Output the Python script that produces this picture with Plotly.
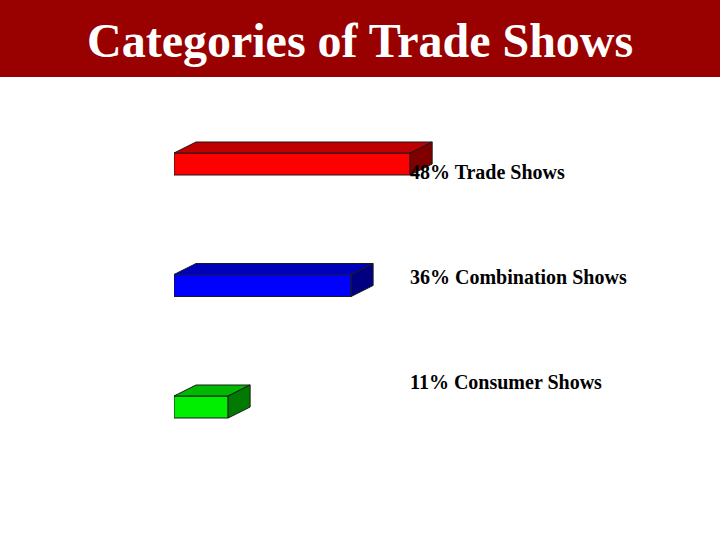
import plotly.graph_objects as go

# ---- data ----
categories = ["Trade Shows", "Combination Shows", "Consumer Shows"]
values = [48, 36, 11]
front_colors = ["#FF0000", "#0000FF", "#00EE00"]
top_colors = ["#C00000", "#0000B8", "#00B800"]
side_colors = ["#800000", "#000080", "#007A00"]
title_text = "Categories of Trade Shows"

# ---- layout constants (pixels) ----
W, H = 720, 540
L, R, T, B = 174, 54, 80, 36
PX_X = 4.92          # px per x unit
PX_Y = 121.5         # px per category step
FRONT_H_PX = 22
DEPTH_X_PX, DEPTH_Y_PX = 22, 11
LABEL_Y0_PX, LABEL_STEP_PX = 8, 105   # label offset from first bar centre, spacing

plot_w = W - L - R
plot_h = H - T - B
x_max = plot_w / PX_X
y_top = -(164 - T) / PX_Y
y_bot = y_top + plot_h / PX_Y

h = FRONT_H_PX / PX_Y
dx = DEPTH_X_PX / PX_X
dy = DEPTH_Y_PX / PX_Y
edge = dict(color="#1a1a1a", width=1)

fig = go.Figure()

for i, v in enumerate(values):
    y0, y1 = i - h / 2, i + h / 2
    # front face
    fig.add_trace(go.Bar(x=[v], y=[i], base=0, width=h, orientation="h",
                         marker=dict(color=front_colors[i], line=edge),
                         hoverinfo="skip", showlegend=False))
    # top face
    fig.add_trace(go.Scatter(x=[0, v, v + dx, dx, 0],
                             y=[y0, y0, y0 - dy, y0 - dy, y0],
                             fill="toself", fillcolor=top_colors[i],
                             mode="lines", line=edge,
                             hoverinfo="skip", showlegend=False))
    # side face
    fig.add_trace(go.Scatter(x=[v, v, v + dx, v + dx, v],
                             y=[y0, y1, y1 - dy, y0 - dy, y0],
                             fill="toself", fillcolor=side_colors[i],
                             mode="lines", line=edge,
                             hoverinfo="skip", showlegend=False))

# labels
for i, (c, v) in enumerate(zip(categories, values)):
    fig.add_annotation(x=max(values), y=(LABEL_Y0_PX + i * LABEL_STEP_PX) / PX_Y,
                       xref="x", yref="y", xanchor="left", yanchor="middle",
                       xshift=-2,
                       text=f"<b>{v}% {c}</b>", showarrow=False,
                       font=dict(family="Liberation Serif", size=20, color="black"))

# title bar
fig.add_shape(type="rect", xref="paper", yref="paper",
              x0=-L / plot_w, x1=1 + R / plot_w,
              y0=1 + (T - 77) / plot_h, y1=1 + T / plot_h,
              fillcolor="#990000", line=dict(width=0), layer="above")
fig.add_annotation(xref="paper", yref="paper",
                   x=(W / 2 - L) / plot_w, y=1 + (T - 40) / plot_h,
                   xanchor="center", yanchor="middle", showarrow=False,
                   text=f"<b>{title_text}</b>",
                   font=dict(family="Liberation Serif", size=48, color="white"))

fig.update_layout(
    width=W, height=H, autosize=False,
    margin=dict(l=L, r=R, t=T, b=B),
    paper_bgcolor="white", plot_bgcolor="white",
    xaxis=dict(range=[0, x_max], visible=False, fixedrange=True),
    yaxis=dict(range=[y_bot, y_top], visible=False, fixedrange=True),
    barmode="overlay",
    hovermode=False,
)

fig.write_html("out.html", config={"displayModeBar": False},
               post_script="document.body.style.margin='0';")
